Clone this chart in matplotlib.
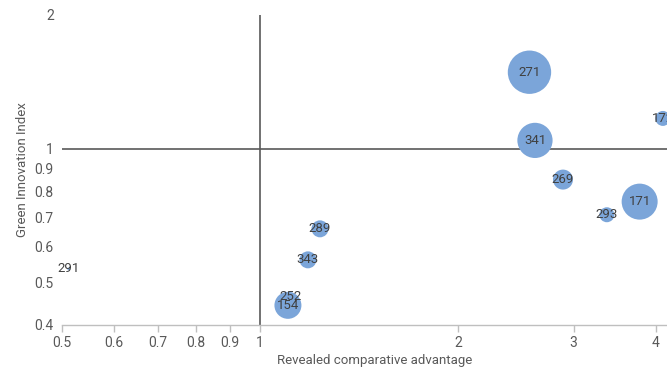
import matplotlib
matplotlib.use("Agg")
import matplotlib.pyplot as plt
from matplotlib import font_manager
from matplotlib.ticker import FixedLocator, NullLocator

names = {f.name for f in font_manager.fontManager.ttflist}
main_font = 'Liberation Sans Narrow' if 'Liberation Sans Narrow' in names else 'Roboto'
plt.rcParams['font.family'] = [main_font, 'DejaVu Sans']

labels = ["271", "341", "172", "269", "171", "293", "289", "343", "252", "154", "291"]
rca = [2.57, 2.62, 4.10, 2.89, 3.78, 3.37, 1.234, 1.183, 1.115, 1.103, 0.512]
gii = [1.486, 1.043, 1.169, 0.851, 0.759, 0.709, 0.659, 0.561, 0.463, 0.443, 0.535]
bubble = [470, 310, 56, 100, 324, 56, 72, 72, 20, 182, 2]

xticks = [0.5, 0.6, 0.7, 0.8, 0.9, 1, 2, 3, 4]
yticks = [0.4, 0.5, 0.6, 0.7, 0.8, 0.9, 1, 2]

fig = plt.figure(figsize=(6.67, 3.70), dpi=100)
ax = fig.add_axes([62/667, 45/370, 1 - 62/667, 310/370])

ax.set_xscale('log')
ax.set_yscale('log')
ax.set_xlim(0.5, 4.16)
ax.set_ylim(0.4, 2)

# bubble value is radius^2 in pixels -> points^2 area
sizes = [(2 * (b ** 0.5) * 0.72) ** 2 for b in bubble]
ax.scatter(rca, gii, s=sizes, color='#7BA5D9', edgecolors='none', zorder=3, clip_on=True)

for lab, x, y in zip(labels, rca, gii):
    ax.text(x, y, lab, ha='center', va='center', fontsize=9.5, color='#404040', zorder=4, clip_on=False)

ax.axvline(1, color='#595959', lw=1.2, zorder=2)
ax.axhline(1, color='#595959', lw=1.2, zorder=2)

for s in ['top', 'right', 'left']:
    ax.spines[s].set_visible(False)
ax.spines['bottom'].set_color('#BFBFBF')
ax.spines['bottom'].set_linewidth(1)

ax.xaxis.set_major_locator(FixedLocator(xticks))
ax.xaxis.set_minor_locator(NullLocator())
ax.set_xticklabels([f"{t:g}" for t in xticks])
ax.yaxis.set_major_locator(FixedLocator(yticks))
ax.yaxis.set_minor_locator(NullLocator())
ax.set_yticklabels([f"{t:g}" for t in yticks])

ax.tick_params(axis='x', colors='#BFBFBF', length=5, width=1, labelcolor='#595959', labelsize=10, pad=3)
ax.tick_params(axis='y', length=0, labelcolor='#595959', labelsize=10, pad=6)

ax.set_xlabel('Revealed comparative advantage', fontsize=9.5, color='#595959')
ax.xaxis.set_label_coords(0.517, -0.095)
ax.set_ylabel('Green Innovation Index', fontsize=9.5, color='#595959')
ax.yaxis.set_label_coords(-0.055, 0.5)

fig.savefig('out.png', dpi=100)
